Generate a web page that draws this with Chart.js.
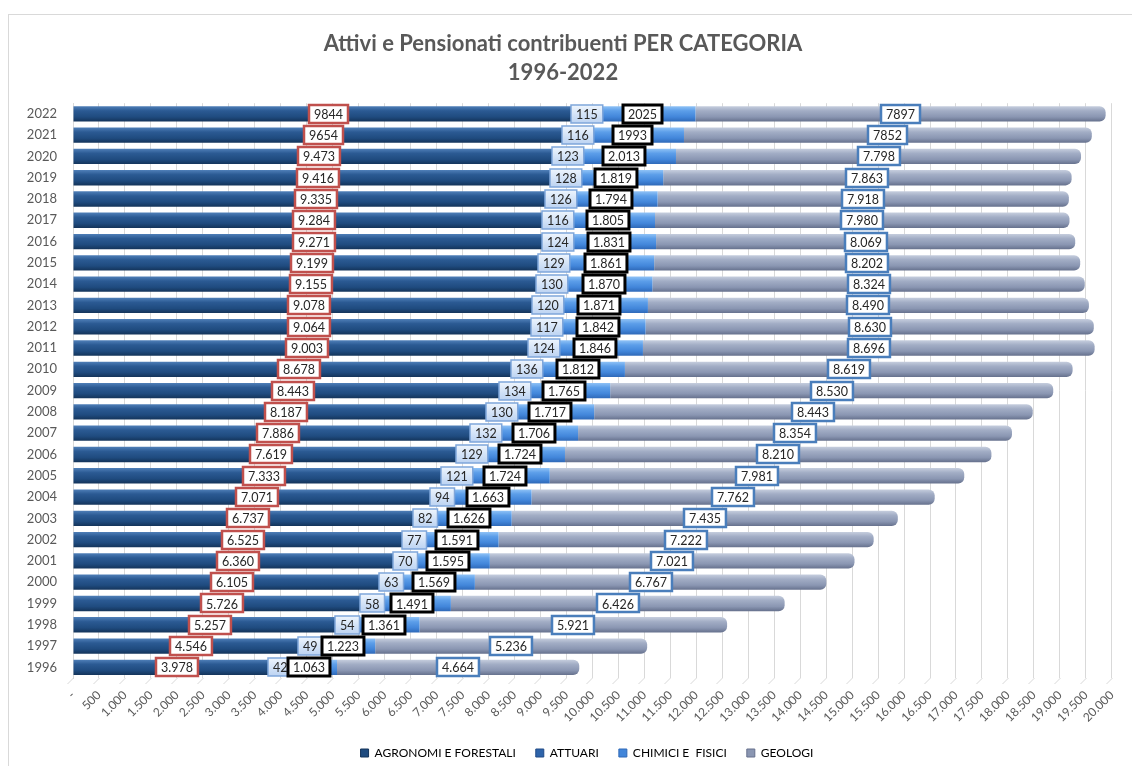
<!DOCTYPE html>
<html>
<head>
<meta charset="utf-8">
<title>Attivi e Pensionati contribuenti PER CATEGORIA 1996-2022</title>
<script src="https://cdn.jsdelivr.net/npm/chart.js@4"></script>
<style>
  html, body { margin: 0; padding: 0; background: #ffffff; }
  #wrap { width: 1132px; height: 766px; position: relative; }
</style>
</head>
<body>
<div id="wrap"><canvas id="chart"></canvas></div>
<script>
const years = ['2022', '2021', '2020', '2019', '2018', '2017', '2016', '2015', '2014',
  '2013', '2012', '2011', '2010', '2009', '2008', '2007', '2006', '2005', '2004',
  '2003', '2002', '2001', '2000', '1999', '1998', '1997', '1996'];
const agronomi = [9844, 9654, 9473, 9416, 9335, 9284, 9271, 9199, 9155,
  9078, 9064, 9003, 8678, 8443, 8187, 7886, 7619, 7333, 7071,
  6737, 6525, 6360, 6105, 5726, 5257, 4546, 3978];
const attuari = [115, 116, 123, 128, 126, 116, 124, 129, 130,
  120, 117, 124, 136, 134, 130, 132, 129, 121, 94,
  82, 77, 70, 63, 58, 54, 49, 42];
const chimici = [2025, 1993, 2013, 1819, 1794, 1805, 1831, 1861, 1870,
  1871, 1842, 1846, 1812, 1765, 1717, 1706, 1724, 1724, 1663,
  1626, 1591, 1595, 1569, 1491, 1361, 1223, 1063];
const geologi = [7897, 7852, 7798, 7863, 7918, 7980, 8069, 8202, 8324,
  8490, 8630, 8696, 8619, 8530, 8443, 8354, 8210, 7981, 7762,
  7435, 7222, 7021, 6767, 6426, 5921, 5236, 4664];
const seriesNames = ['AGRONOMI E FORESTALI', 'ATTUARI', 'CHIMICI E  FISICI', 'GEOLOGI'];
// in the source the two latest years are printed without the thousands dot
const plainYears = ['2022', '2021'];
const xMax = 20000;
const xStep = 500;

const greyText = '#595959';
const gridGrey = '#d9d9d9';
const barShare = 0.72;

// top light -> bottom dark, to fake the cylinder look of the original
const shades = [
  ['#4f7fb8', '#2b5a93', '#1f4b7f', '#14345a'],
  ['#6d9fdd', '#3f78c2', '#2e64aa', '#204b86'],
  ['#8fc2f6', '#5c9ee9', '#4286da', '#2f69b8'],
  ['#c6cede', '#a2adc5', '#8a96b2', '#66718d']
];
const labelBoxes = [
  { border: '#c0504d', width: 2.5, fill: '#ffffff' },
  { border: '#7fa6da', width: 1.5, fill: ['#eef5fd', '#bcd3f2'] },
  { border: '#000000', width: 3, fill: '#ffffff' },
  { border: '#4a7ebb', width: 2.5, fill: '#ffffff' }
];

function itNumber(v) {
  return String(v).replace(/\B(?=(\d{3})+(?!\d))/g, '.');
}

function cylinder(stops) {
  return function (c) {
    const chart = c.chart;
    const y = chart.scales.y;
    if (c.type !== 'data' || !y || !chart.chartArea) return stops[2];
    const mid = y.getPixelForValue(c.dataIndex);
    const half = Math.abs(y.getPixelForValue(1) - y.getPixelForValue(0)) * barShare / 2;
    const g = chart.ctx.createLinearGradient(0, mid - half, 0, mid + half);
    g.addColorStop(0, stops[0]);
    g.addColorStop(0.3, stops[1]);
    g.addColorStop(0.7, stops[2]);
    g.addColorStop(1, stops[3]);
    return g;
  };
}

const frame = {
  id: 'frame',
  afterLayout(chart) {
    // the original legend sits a bit right of the canvas centre
    if (chart.legend) {
      chart.legend.left += 24;
      chart.legend.right += 24;
    }
  },
  beforeDraw(chart) {
    const ctx = chart.ctx;
    ctx.save();
    ctx.fillStyle = '#ffffff';
    ctx.fillRect(0, 0, chart.width, chart.height);
    ctx.strokeStyle = gridGrey;
    ctx.lineWidth = 1;
    ctx.strokeRect(8.5, 14.5, chart.width + 20, chart.height + 20);
    ctx.restore();
  },
  beforeDatasetsDraw(chart) {
    // little slanted floor marks under the grid lines
    const ctx = chart.ctx;
    const x = chart.scales.x;
    const bottom = chart.chartArea.bottom;
    ctx.save();
    ctx.strokeStyle = gridGrey;
    ctx.lineWidth = 1;
    x.ticks.forEach(t => {
      const px = Math.round(x.getPixelForValue(t.value)) + 0.5;
      ctx.beginPath();
      ctx.moveTo(px, bottom);
      ctx.lineTo(px - 6, bottom + 6);
      ctx.stroke();
    });
    ctx.restore();
  }
};

const boxLabels = {
  id: 'boxLabels',
  afterDatasetsDraw(chart) {
    const ctx = chart.ctx;
    ctx.save();
    ctx.font = '12.5px Lato';
    ctx.textAlign = 'center';
    ctx.textBaseline = 'middle';
    chart.data.datasets.forEach((ds, di) => {
      const meta = chart.getDatasetMeta(di);
      const st = labelBoxes[di];
      meta.data.forEach((bar, i) => {
        const v = ds.data[i];
        const text = plainYears.includes(years[i]) ? String(v) : itNumber(v);
        const cx = (bar.x + bar.base) / 2;
        const cy = bar.y;
        const w = ctx.measureText(text).width + 10;
        const h = 18;
        const left = Math.round(cx - w / 2);
        const top = Math.round(cy - h / 2);
        if (Array.isArray(st.fill)) {
          const g = ctx.createLinearGradient(0, top, 0, top + h);
          g.addColorStop(0, st.fill[0]);
          g.addColorStop(1, st.fill[1]);
          ctx.fillStyle = g;
        } else {
          ctx.fillStyle = st.fill;
        }
        ctx.fillRect(left, top, w, h);
        ctx.lineWidth = st.width;
        ctx.strokeStyle = st.border;
        ctx.strokeRect(left, top, w, h);
        ctx.fillStyle = '#262626';
        ctx.fillText(text, left + w / 2, cy + 1);
      });
    });
    ctx.restore();
  }
};

const seriesData = [agronomi, attuari, chimici, geologi];
const datasets = seriesData.map((vals, k) => ({
  label: seriesNames[k],
  data: vals,
  backgroundColor: cylinder(shades[k]),
  borderWidth: 0,
  borderRadius: k === 3 ? 6 : (k === 0 ? 3 : 0),
  borderSkipped: k === 0 ? 'end' : 'start',
  barPercentage: 1,
  categoryPercentage: barShare
}));

new Chart(document.getElementById('chart'), {
  type: 'bar',
  data: { labels: years, datasets: datasets },
  plugins: [frame, boxLabels],
  options: {
    indexAxis: 'y',
    responsive: true,
    maintainAspectRatio: false,
    animation: false,
    layout: { padding: { top: 0, right: 19, bottom: -3, left: 13 } },
    scales: {
      x: {
        stacked: true,
        min: 0,
        max: xMax,
        border: { display: false },
        grid: { color: gridGrey, drawTicks: false },
        afterFit: s => { s.height = 49; },
        ticks: {
          stepSize: xStep,
          autoSkip: false,
          minRotation: 45,
          maxRotation: 45,
          padding: 10,
          color: greyText,
          font: { family: 'Lato', size: 12 },
          callback: v => v === 0 ? '-' : itNumber(v)
        }
      },
      y: {
        stacked: true,
        border: { display: true, color: gridGrey },
        grid: { display: false, drawTicks: false },
        afterFit: s => { s.width = 60; },
        ticks: {
          padding: 16,
          color: greyText,
          font: { family: 'Lato', size: 13 }
        }
      }
    },
    plugins: {
      title: {
        display: true,
        text: ['Attivi e Pensionati contribuenti PER CATEGORIA', '1996-2022'],
        color: greyText,
        font: { family: 'Lato', size: 22, weight: 'bold', lineHeight: 1.3 },
        padding: { top: 30, bottom: 16 }
      },
      legend: {
        position: 'bottom',
        labels: {
          boxWidth: 8,
          boxHeight: 8,
          padding: 20,
          color: greyText,
          font: { family: 'Lato', size: 12 },
          generateLabels: chart => chart.data.datasets.map((ds, k) => ({
            text: ds.label,
            fillStyle: shades[k][2],
            strokeStyle: shades[k][3],
            lineWidth: 1,
            hidden: false,
            datasetIndex: k
          }))
        }
      },
      tooltip: { enabled: false }
    }
  }
});
</script>
</body>
</html>
